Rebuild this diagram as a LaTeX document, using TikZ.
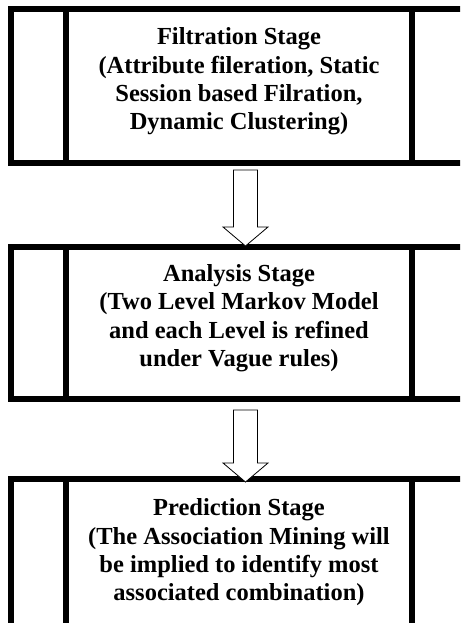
\documentclass[tikz,border=0pt]{standalone}
\usepackage{fontspec}
\setmainfont{Liberation Serif}
\usetikzlibrary{calc}

\tikzset{
    stage/.style={rectangle, draw, line width=6pt, minimum width=456pt, align=center,
        font=\fontsize{24.5}{28.3}\selectfont\bfseries,
        path picture={
            \draw[line width=6pt] ([xshift=54.5pt]path picture bounding box.north west) -- ([xshift=54.5pt]path picture bounding box.south west);
            \draw[line width=6pt] ([xshift=-55.5pt]path picture bounding box.north east) -- ([xshift=-55.5pt]path picture bounding box.south east);
        }},
    raised/.style={execute at end node={\rule[-15pt]{0pt}{15pt}}},
    blockarrow/.style={draw, line width=0.8pt, fill=white, line join=miter}
}

% hollow arrow between two stages: #1 shaft start, #2 tip
\newcommand{\stagearrow}[2]{%
    \draw[blockarrow] ($(#1)+(-12pt,0)$) -- ($(#2)+(-12pt,19pt)$) -- ($(#2)+(-22.5pt,19pt)$) -- (#2)
        -- ($(#2)+(22.5pt,19pt)$) -- ($(#2)+(12pt,19pt)$) -- ($(#1)+(12pt,0)$) -- cycle;}

\begin{document}
\begin{tikzpicture}[x=1pt, y=1pt]
    \useasboundingbox (0,0) rectangle (460,-623);
    \clip (0,0) rectangle (460,-623);

    \node[stage, raised, minimum height=153.5pt] (filt) at (239,-86.25) {Filtration Stage\\(Attribute fileration, Static\\Session based Filration,\\Dynamic Clustering)};
    \node[stage, raised, minimum height=152pt] (anal) at (239,-323) {Analysis Stage\\(Two Level Markov Model\\and each Level is refined\\under Vague rules)};
    \node[stage, minimum height=147pt] (pred) at (239,-552.5) {Prediction Stage\\(The Association Mining will\\be implied to identify most\\associated combination)};

    \coordinate (a1s) at ([xshift=6.5pt, yshift=-4pt]filt.south);
    \coordinate (a1e) at ([xshift=6.5pt, yshift=-2pt]anal.north);
    \coordinate (a2s) at ([xshift=6.5pt, yshift=-8pt]anal.south);
    \coordinate (a2e) at ([xshift=6.5pt, yshift=-6pt]pred.north);

    \stagearrow{a1s}{a1e}
    \stagearrow{a2s}{a2e}
\end{tikzpicture}
\end{document}
